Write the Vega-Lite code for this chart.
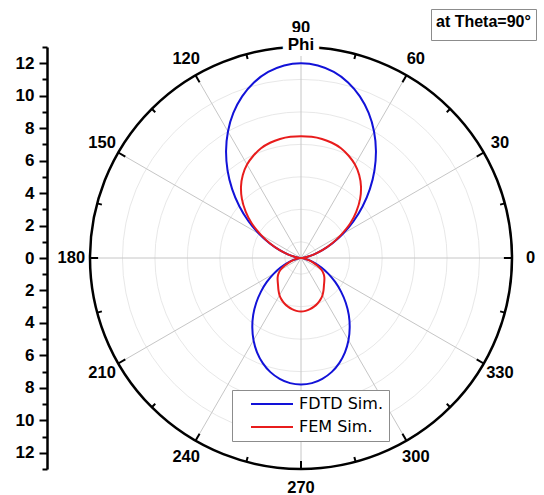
{
  "$schema": "https://vega.github.io/schema/vega-lite/v6.json",
  "width": 422,
  "height": 422,
  "autosize": "none",
  "padding": {"left": 90, "top": 47, "right": 32, "bottom": 26},
  "background": "white",
  "config": {"view": {"stroke": null}, "font": "Liberation Sans"},
  "datasets": {
    "curves": [
      {"s":"FDTD Sim.","phi":0,"r":0},{"s":"FDTD Sim.","phi":5,"r":0.09},{"s":"FDTD Sim.","phi":10,"r":0.36},{"s":"FDTD Sim.","phi":15,"r":0.8},{"s":"FDTD Sim.","phi":20,"r":1.4},{"s":"FDTD Sim.","phi":25,"r":2.14},{"s":"FDTD Sim.","phi":30,"r":3.0},{"s":"FDTD Sim.","phi":35,"r":3.95},{"s":"FDTD Sim.","phi":40,"r":4.96},{"s":"FDTD Sim.","phi":45,"r":6.0},{"s":"FDTD Sim.","phi":50,"r":7.04},{"s":"FDTD Sim.","phi":55,"r":8.05},{"s":"FDTD Sim.","phi":60,"r":9.0},{"s":"FDTD Sim.","phi":65,"r":9.86},{"s":"FDTD Sim.","phi":70,"r":10.6},{"s":"FDTD Sim.","phi":75,"r":11.2},{"s":"FDTD Sim.","phi":80,"r":11.64},{"s":"FDTD Sim.","phi":85,"r":11.91},{"s":"FDTD Sim.","phi":90,"r":12.0},{"s":"FDTD Sim.","phi":95,"r":11.91},{"s":"FDTD Sim.","phi":100,"r":11.64},{"s":"FDTD Sim.","phi":105,"r":11.2},{"s":"FDTD Sim.","phi":110,"r":10.6},{"s":"FDTD Sim.","phi":115,"r":9.86},{"s":"FDTD Sim.","phi":120,"r":9.0},{"s":"FDTD Sim.","phi":125,"r":8.05},{"s":"FDTD Sim.","phi":130,"r":7.04},{"s":"FDTD Sim.","phi":135,"r":6.0},{"s":"FDTD Sim.","phi":140,"r":4.96},{"s":"FDTD Sim.","phi":145,"r":3.95},{"s":"FDTD Sim.","phi":150,"r":3.0},{"s":"FDTD Sim.","phi":155,"r":2.14},{"s":"FDTD Sim.","phi":160,"r":1.4},{"s":"FDTD Sim.","phi":165,"r":0.8},{"s":"FDTD Sim.","phi":170,"r":0.36},{"s":"FDTD Sim.","phi":175,"r":0.09},{"s":"FDTD Sim.","phi":180,"r":0},
      {"s":"FDTD Sim.","phi":185,"r":0.06},{"s":"FDTD Sim.","phi":190,"r":0.24},{"s":"FDTD Sim.","phi":195,"r":0.52},{"s":"FDTD Sim.","phi":200,"r":0.91},{"s":"FDTD Sim.","phi":205,"r":1.39},{"s":"FDTD Sim.","phi":210,"r":1.95},{"s":"FDTD Sim.","phi":215,"r":2.57},{"s":"FDTD Sim.","phi":220,"r":3.22},{"s":"FDTD Sim.","phi":225,"r":3.9},{"s":"FDTD Sim.","phi":230,"r":4.58},{"s":"FDTD Sim.","phi":235,"r":5.23},{"s":"FDTD Sim.","phi":240,"r":5.85},{"s":"FDTD Sim.","phi":245,"r":6.41},{"s":"FDTD Sim.","phi":250,"r":6.89},{"s":"FDTD Sim.","phi":255,"r":7.28},{"s":"FDTD Sim.","phi":260,"r":7.56},{"s":"FDTD Sim.","phi":265,"r":7.74},{"s":"FDTD Sim.","phi":270,"r":7.8},{"s":"FDTD Sim.","phi":275,"r":7.74},{"s":"FDTD Sim.","phi":280,"r":7.56},{"s":"FDTD Sim.","phi":285,"r":7.28},{"s":"FDTD Sim.","phi":290,"r":6.89},{"s":"FDTD Sim.","phi":295,"r":6.41},{"s":"FDTD Sim.","phi":300,"r":5.85},{"s":"FDTD Sim.","phi":305,"r":5.23},{"s":"FDTD Sim.","phi":310,"r":4.58},{"s":"FDTD Sim.","phi":315,"r":3.9},{"s":"FDTD Sim.","phi":320,"r":3.22},{"s":"FDTD Sim.","phi":325,"r":2.57},{"s":"FDTD Sim.","phi":330,"r":1.95},{"s":"FDTD Sim.","phi":335,"r":1.39},{"s":"FDTD Sim.","phi":340,"r":0.91},{"s":"FDTD Sim.","phi":345,"r":0.52},{"s":"FDTD Sim.","phi":350,"r":0.24},{"s":"FDTD Sim.","phi":355,"r":0.06},{"s":"FDTD Sim.","phi":360,"r":0},
      {"s":"FEM Sim.","phi":0,"r":0},{"s":"FEM Sim.","phi":5,"r":0.09},{"s":"FEM Sim.","phi":10,"r":0.36},{"s":"FEM Sim.","phi":15,"r":0.8},{"s":"FEM Sim.","phi":20,"r":1.4},{"s":"FEM Sim.","phi":25,"r":2.1},{"s":"FEM Sim.","phi":30,"r":2.85},{"s":"FEM Sim.","phi":35,"r":3.7},{"s":"FEM Sim.","phi":40,"r":4.45},{"s":"FEM Sim.","phi":45,"r":5.15},{"s":"FEM Sim.","phi":50,"r":5.75},{"s":"FEM Sim.","phi":55,"r":6.25},{"s":"FEM Sim.","phi":60,"r":6.65},{"s":"FEM Sim.","phi":65,"r":6.95},{"s":"FEM Sim.","phi":70,"r":7.2},{"s":"FEM Sim.","phi":75,"r":7.35},{"s":"FEM Sim.","phi":80,"r":7.45},{"s":"FEM Sim.","phi":85,"r":7.5},{"s":"FEM Sim.","phi":90,"r":7.5},{"s":"FEM Sim.","phi":95,"r":7.5},{"s":"FEM Sim.","phi":100,"r":7.45},{"s":"FEM Sim.","phi":105,"r":7.35},{"s":"FEM Sim.","phi":110,"r":7.2},{"s":"FEM Sim.","phi":115,"r":6.95},{"s":"FEM Sim.","phi":120,"r":6.65},{"s":"FEM Sim.","phi":125,"r":6.25},{"s":"FEM Sim.","phi":130,"r":5.75},{"s":"FEM Sim.","phi":135,"r":5.15},{"s":"FEM Sim.","phi":140,"r":4.45},{"s":"FEM Sim.","phi":145,"r":3.7},{"s":"FEM Sim.","phi":150,"r":2.85},{"s":"FEM Sim.","phi":155,"r":2.1},{"s":"FEM Sim.","phi":160,"r":1.4},{"s":"FEM Sim.","phi":165,"r":0.8},{"s":"FEM Sim.","phi":170,"r":0.36},{"s":"FEM Sim.","phi":175,"r":0.09},{"s":"FEM Sim.","phi":180,"r":0},
      {"s":"FEM Sim.","phi":185,"r":0.06},{"s":"FEM Sim.","phi":190,"r":0.22},{"s":"FEM Sim.","phi":195,"r":0.45},{"s":"FEM Sim.","phi":200,"r":0.75},{"s":"FEM Sim.","phi":205,"r":1.1},{"s":"FEM Sim.","phi":210,"r":1.45},{"s":"FEM Sim.","phi":215,"r":1.7},{"s":"FEM Sim.","phi":220,"r":1.88},{"s":"FEM Sim.","phi":225,"r":2.03},{"s":"FEM Sim.","phi":230,"r":2.2},{"s":"FEM Sim.","phi":235,"r":2.42},{"s":"FEM Sim.","phi":240,"r":2.65},{"s":"FEM Sim.","phi":245,"r":2.83},{"s":"FEM Sim.","phi":250,"r":2.98},{"s":"FEM Sim.","phi":255,"r":3.1},{"s":"FEM Sim.","phi":260,"r":3.2},{"s":"FEM Sim.","phi":265,"r":3.27},{"s":"FEM Sim.","phi":270,"r":3.3},{"s":"FEM Sim.","phi":275,"r":3.27},{"s":"FEM Sim.","phi":280,"r":3.2},{"s":"FEM Sim.","phi":285,"r":3.1},{"s":"FEM Sim.","phi":290,"r":2.98},{"s":"FEM Sim.","phi":295,"r":2.83},{"s":"FEM Sim.","phi":300,"r":2.65},{"s":"FEM Sim.","phi":305,"r":2.42},{"s":"FEM Sim.","phi":310,"r":2.2},{"s":"FEM Sim.","phi":315,"r":2.03},{"s":"FEM Sim.","phi":320,"r":1.88},{"s":"FEM Sim.","phi":325,"r":1.7},{"s":"FEM Sim.","phi":330,"r":1.45},{"s":"FEM Sim.","phi":335,"r":1.1},{"s":"FEM Sim.","phi":340,"r":0.75},{"s":"FEM Sim.","phi":345,"r":0.45},{"s":"FEM Sim.","phi":350,"r":0.22},{"s":"FEM Sim.","phi":355,"r":0.06},{"s":"FEM Sim.","phi":360,"r":0}
    ],
    "rings": [{"r":1},{"r":3},{"r":5},{"r":7},{"r":9},{"r":11}],
    "outer": [{"r":13}],
    "spokes": [{"phi":0},{"phi":30},{"phi":60},{"phi":90},{"phi":120},{"phi":150},{"phi":180},{"phi":210},{"phi":240},{"phi":270},{"phi":300},{"phi":330}],
    "ticks": [{"phi":0},{"phi":15},{"phi":30},{"phi":45},{"phi":60},{"phi":75},{"phi":90},{"phi":105},{"phi":120},{"phi":135},{"phi":150},{"phi":165},{"phi":180},{"phi":195},{"phi":210},{"phi":225},{"phi":240},{"phi":255},{"phi":270},{"phi":285},{"phi":300},{"phi":315},{"phi":330},{"phi":345}],
    "labels": [{"phi":0,"label":"0"},{"phi":30,"label":"30"},{"phi":60,"label":"60"},{"phi":90,"label":"90"},{"phi":120,"label":"120"},{"phi":150,"label":"150"},{"phi":180,"label":"180"},{"phi":210,"label":"210"},{"phi":240,"label":"240"},{"phi":270,"label":"270"},{"phi":300,"label":"300"},{"phi":330,"label":"330"}],
    "note": [{"note":"at Theta=90°"}],
    "phiTitle": [{"t":"Phi"}]
  },
  "encoding": {
    "x": {"field": "px", "type": "quantitative", "scale": {"domain": [-13, 13], "nice": false, "zero": false}, "axis": null},
    "y": {"field": "py", "type": "quantitative", "scale": {"domain": [-13, 13], "nice": false, "zero": false}, "title": null,
      "axis": {"orient": "left", "offset": 43, "values": [-13,-12,-11,-10,-9,-8,-7,-6,-5,-4,-3,-2,-1,0,1,2,3,4,5,6,7,8,9,10,11,12,13],
        "labelExpr": "(datum.value % 2 == 0) ? ('' + abs(datum.value)) : ''",
        "tickSize": 8, "tickWidth": 2, "tickColor": "black", "domainColor": "black", "domainWidth": 2.5,
        "tickDash": {"condition": {"test": "datum.value % 2 == 0", "value": [9, 0]}, "value": [5, 20]},
        "labelFont": "Liberation Sans", "labelFontWeight": "bold", "labelFontSize": 17, "labelColor": "black",
        "labelPadding": 5, "grid": false, "labelOverlap": false, "title": null}}
  },
  "layer": [
    {
      "data": {"name": "rings"},
      "transform": [{"calculate": "0", "as": "px"}, {"calculate": "0", "as": "py"}],
      "mark": {"type": "point", "shape": "circle", "filled": false, "stroke": "#e8e8e8", "strokeWidth": 1, "opacity": 1},
      "encoding": {
        "size": {"field": "r", "type": "quantitative", "scale": {"type": "pow", "exponent": 2, "domain": [0, 13], "range": [0, 178084]}, "legend": null}
      }
    },
    {
      "data": {"name": "spokes"},
      "transform": [
        {"calculate": "0", "as": "px"},
        {"calculate": "0", "as": "py"},
        {"calculate": "13 * cos(datum.phi * PI / 180)", "as": "px2"},
        {"calculate": "13 * sin(datum.phi * PI / 180)", "as": "py2"}
      ],
      "mark": {"type": "rule", "color": "#c6c6c6", "strokeWidth": 1},
      "encoding": {
        "x2": {"field": "px2"},
        "y2": {"field": "py2"}
      }
    },
    {
      "data": {"name": "outer"},
      "transform": [{"calculate": "0", "as": "px"}, {"calculate": "0", "as": "py"}],
      "mark": {"type": "point", "shape": "circle", "filled": false, "stroke": "black", "strokeWidth": 2.5, "opacity": 1},
      "encoding": {
        "size": {"field": "r", "type": "quantitative", "legend": null}
      }
    },
    {
      "data": {"name": "ticks"},
      "transform": [
        {"calculate": "datum.phi % 30 == 0 ? 12.5 : 12.7", "as": "ri"},
        {"calculate": "13 * cos(datum.phi * PI / 180)", "as": "px"},
        {"calculate": "13 * sin(datum.phi * PI / 180)", "as": "py"},
        {"calculate": "datum.ri * cos(datum.phi * PI / 180)", "as": "px2"},
        {"calculate": "datum.ri * sin(datum.phi * PI / 180)", "as": "py2"}
      ],
      "mark": {"type": "rule", "color": "black", "strokeWidth": 2},
      "encoding": {
        "x2": {"field": "px2"},
        "y2": {"field": "py2"}
      }
    },
    {
      "data": {"name": "curves"},
      "transform": [
        {"calculate": "datum.r * cos(datum.phi * PI / 180)", "as": "px"},
        {"calculate": "datum.r * sin(datum.phi * PI / 180)", "as": "py"}
      ],
      "mark": {"type": "line", "strokeWidth": 2, "interpolate": "catmull-rom"},
      "encoding": {
        "order": {"field": "phi", "type": "quantitative"},
        "color": {"field": "s", "type": "nominal",
          "scale": {"domain": ["FDTD Sim.", "FEM Sim."], "range": ["#1212d8", "#e81c1c"]},
          "legend": {"orient": "none", "legendX": 142, "legendY": 343, "title": null,
            "symbolType": "M-3,0H3", "symbolSize": 196, "symbolStrokeWidth": 2,
            "labelFont": "DejaVu Sans", "labelFontSize": 16, "labelColor": "black",
            "padding": 6, "strokeColor": "#8c8c8c", "fillColor": "white", "rowPadding": 7, "labelOffset": 19, "symbolOffset": 26}}
      }
    },
    {
      "data": {"name": "labels"},
      "transform": [
        {"calculate": "14.15 * cos(datum.phi * PI / 180)", "as": "px"},
        {"calculate": "14.15 * sin(datum.phi * PI / 180)", "as": "py"}
      ],
      "mark": {"type": "text", "font": "Liberation Sans", "fontWeight": "bold", "fontSize": 16.5, "color": "black", "align": "center", "baseline": "middle"},
      "encoding": {
        "text": {"field": "label"}
      }
    },
    {
      "data": {"name": "phiTitle"},
      "transform": [{"calculate": "0", "as": "px"}, {"calculate": "13", "as": "py"}],
      "mark": {"type": "text", "font": "Liberation Sans", "fontWeight": "bold", "fontSize": 17, "fill": "white", "stroke": "white", "strokeWidth": 12, "align": "center", "baseline": "middle", "dy": -2},
      "encoding": {
        "text": {"field": "t"}
      }
    },
    {
      "data": {"name": "phiTitle"},
      "transform": [{"calculate": "0", "as": "px"}, {"calculate": "13", "as": "py"}],
      "mark": {"type": "text", "font": "Liberation Sans", "fontWeight": "bold", "fontSize": 17, "color": "black", "align": "center", "baseline": "middle", "dy": -2},
      "encoding": {
        "text": {"field": "t"}
      }
    },
    {
      "data": {"name": "note"},
      "transform": [{"calculate": "0", "as": "px"}, {"calculate": "0", "as": "py"}],
      "mark": {"type": "point", "opacity": 0},
      "encoding": {
        "shape": {"field": "note", "type": "nominal",
          "legend": {"orient": "none", "legendX": 341, "legendY": -38, "title": "at Theta=90°",
            "titleFont": "Liberation Sans", "titleFontWeight": "bold", "titleFontSize": 16, "titleColor": "black", "titlePadding": 0,
            "titleBaseline": "top", "labelExpr": "''", "labelFontSize": 0, "labelOffset": 0, "rowPadding": 0,
            "symbolSize": 0, "symbolStrokeWidth": 0, "symbolOpacity": 0,
            "padding": 5, "strokeColor": "#8c8c8c", "fillColor": "white"}}
      }
    }
  ]
}
